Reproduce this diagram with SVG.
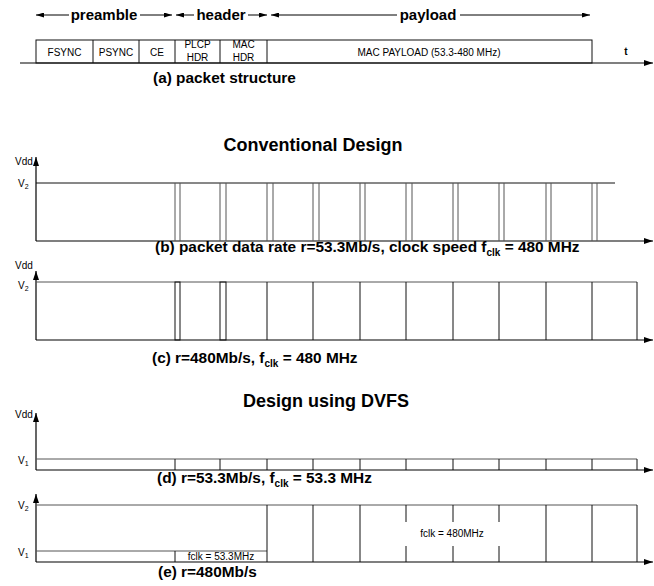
<svg xmlns="http://www.w3.org/2000/svg" width="654" height="586" viewBox="0 0 654 586">
<defs>
<marker id="ah" markerWidth="9" markerHeight="6" refX="9" refY="3" orient="auto" markerUnits="userSpaceOnUse"><path d="M0,0 L9,3 L0,6 z" fill="#000"/></marker>
<marker id="ahs" markerWidth="8" markerHeight="5" refX="8" refY="2.5" orient="auto" markerUnits="userSpaceOnUse"><path d="M0,0 L8,2.5 L0,5 z" fill="#000"/></marker>
</defs>
<style>
text{font-family:"Liberation Sans",Arial,sans-serif;fill:#000}
.cap{font-size:15.4px;font-weight:bold}
.spn{font-size:15px;font-weight:bold}
.ttl{font-size:18px;font-weight:bold}
.lbl{font-size:10px}
.mid{text-anchor:middle}
.sub{font-size:7px}
.ln{stroke:#111;stroke-width:1;fill:none}
.gl{stroke:#555;stroke-width:1;fill:none}
.ax{stroke:#000;stroke-width:1.2;fill:none;marker-end:url(#ah)}
.ta{stroke:#000;stroke-width:1;fill:none;marker-end:url(#ahs)}
</style>

<g id="packet">
<g id="spans">
<path class="ta" d="M69,15 H36"/>
<path class="ta" d="M140,15 H172"/>
<path class="ta" d="M194,15 H176"/>
<path class="ta" d="M248,15 H267"/>
<path class="ta" d="M397,15 H271"/>
<path class="ta" d="M460,15 H590"/>
<text class="spn mid" x="104" y="20">preamble</text>
<text class="spn mid" x="221" y="20">header</text>
<text class="spn mid" x="428" y="20">payload</text>
</g>
<path class="ax" d="M20,63 H653"/>
<rect x="36" y="40" width="556" height="23" class="ln"/>
<path class="ln" d="M93,40 V63 M139,40 V63 M175,40 V63 M220,40 V63 M267,40 V63"/>
<text class="lbl mid" x="64.5" y="56">FSYNC</text>
<text class="lbl mid" x="116" y="56">PSYNC</text>
<text class="lbl mid" x="157" y="56">CE</text>
<text class="lbl mid" x="197.5" y="48">PLCP</text>
<text class="lbl mid" x="197.5" y="61">HDR</text>
<text class="lbl mid" x="243.5" y="48">MAC</text>
<text class="lbl mid" x="243.5" y="61">HDR</text>
<text class="lbl mid" x="429" y="56">MAC PAYLOAD (53.3-480 MHz)</text>
<text class="lbl mid" x="626" y="55" font-weight="bold">t</text>
<text class="cap" x="153" y="83">(a) packet structure</text>
</g>

<text class="ttl mid" x="313" y="151">Conventional Design</text>

<g id="panel-b">
<path class="ax" d="M36,241 V157"/>
<path class="ax" d="M36,241 H653"/>
<path class="ln" d="M36,183 H615"/>
<path class="gl" d="M175,183 V241 M180,183 V241 M220,183 V241 M226,183 V241 M267,183 V241 M273,183 V241 M313,183 V241 M319,183 V241 M360,183 V241 M365,183 V241 M406,183 V241 M412,183 V241 M453,183 V241 M458,183 V241 M499,183 V241 M504,183 V241 M546,183 V241 M551,183 V241 M592,183 V241 M597,183 V241"/>
<text class="lbl" x="15" y="165">Vdd</text>
<text class="lbl" x="18" y="187">V<tspan class="sub" dy="2">2</tspan></text>
<text class="cap" x="155" y="252">(b) packet data rate r=53.3Mb/s, clock speed f<tspan font-size="10" dy="4">clk</tspan><tspan dy="-4"> = 480 MHz</tspan></text>
</g>

<g id="panel-c">
<path class="ax" d="M36,340 V271"/>
<path class="ax" d="M36,340 H653"/>
<path class="gl" d="M36,282 H637"/>
<rect x="175" y="282" width="5" height="58" class="ln"/>
<rect x="220" y="282" width="6" height="58" class="ln"/>
<path class="ln" d="M267,282 V340 M313,282 V340 M360,282 V340 M406,282 V340 M453,282 V340 M499,282 V340 M546,282 V340 M592,282 V340 M637,282 V340"/>
<text class="lbl" x="15" y="269">Vdd</text>
<text class="lbl" x="18" y="289">V<tspan class="sub" dy="2">2</tspan></text>
<text class="cap" x="152" y="363">(c) r=480Mb/s, f<tspan font-size="10" dy="4">clk</tspan><tspan dy="-4"> = 480 MHz</tspan></text>
</g>

<text class="ttl mid" x="326" y="407">Design using DVFS</text>

<g id="panel-d">
<path class="ax" d="M36,470 V413"/>
<path class="ax" d="M36,470 H653"/>
<path class="gl" d="M36,459 H637"/>
<path class="ln" d="M175,459 V470 M220,459 V470 M267,459 V470 M313,459 V470 M360,459 V470 M406,459 V470 M453,459 V470 M499,459 V470 M546,459 V470 M592,459 V470 M637,459 V470"/>
<text class="lbl" x="15" y="418">Vdd</text>
<text class="lbl" x="18" y="464">V<tspan class="sub" dy="2">1</tspan></text>
<text class="cap" x="157" y="483">(d) r=53.3Mb/s, f<tspan font-size="10" dy="4">clk</tspan><tspan dy="-4"> = 53.3 MHz</tspan></text>
</g>

<g id="panel-e">
<path class="ax" d="M36,562 V494"/>
<path class="ax" d="M36,562 H653"/>
<path class="gl" d="M36,505 H637"/>
<path class="gl" d="M36,551 H267"/>
<path class="ln" d="M175,551 V562 M267,505 V562 M313,505 V562 M360,505 V562 M546,505 V562 M592,505 V562 M637,505 V562"/>
<path class="ln" d="M406,505 V522 M406,546 V562 M453,505 V522 M453,546 V562 M499,505 V522 M499,546 V562"/>
<text class="lbl mid" x="221" y="560">fclk = 53.3MHz</text>
<text class="lbl mid" x="452" y="537">fclk = 480MHz</text>
<text class="lbl" x="18" y="509">V<tspan class="sub" dy="2">2</tspan></text>
<text class="lbl" x="18" y="556">V<tspan class="sub" dy="2">1</tspan></text>
<text class="cap" x="158" y="577">(e) r=480Mb/s</text>
</g>
</svg>
